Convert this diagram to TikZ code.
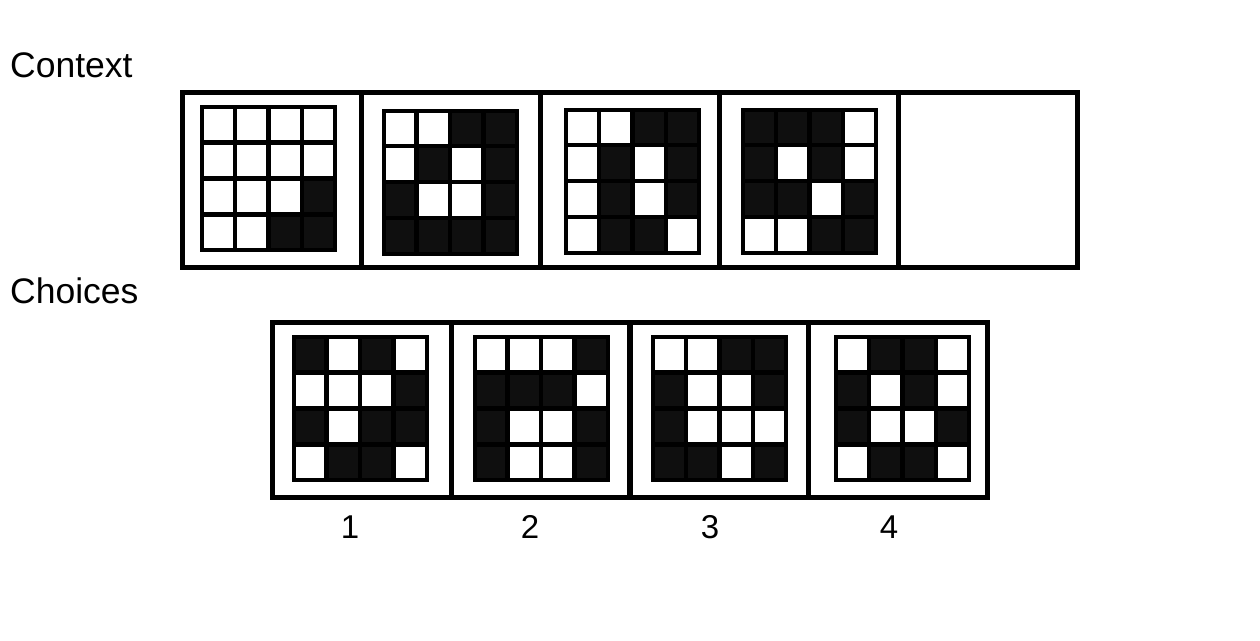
\documentclass[tikz,border=0pt]{standalone}
\usepackage{fontspec}
\setmainfont{Liberation Sans}

\tikzstyle{panel}=[rectangle, draw, line width=5pt,
                   minimum width=179pt, minimum height=175pt, inner sep=0pt]
\tikzstyle{choicepanel}=[panel, minimum width=178.75pt]
\tikzstyle{caption}=[inner sep=0pt, font=\fontsize{35.5}{42}\selectfont]
\tikzstyle{number}=[inner sep=0pt, font=\fontsize{33}{40}\selectfont]
\tikzstyle{litcell}=[fill=white]
\tikzstyle{darkcell}=[fill=black!94]

% grid of 4x4 squares: centre x, centre y, 16 values (1 = dark)
\newcommand{\patterngrid}[3]{%
  \fill[black] (#1-68.5, #2-73.5) rectangle (#1+68.5, #2+73.5);
  \foreach \v [count=\k from 0] in {#3} {
    \pgfmathtruncatemacro{\gridrow}{div(\k,4)}
    \pgfmathtruncatemacro{\gridcol}{mod(\k,4)}
    \ifnum\v=0
      \path[litcell] (#1-64.5+\gridcol*33.375, #2-69.5+\gridrow*35.875) rectangle ++(28.875, 31.375);
    \else
      \path[darkcell] (#1-64.5+\gridcol*33.375, #2-69.5+\gridrow*35.875) rectangle ++(28.875, 31.375);
    \fi
  }%
}

\begin{document}
\begin{tikzpicture}[x=1pt, y=-1pt]
\useasboundingbox (0, 0) rectangle (1260, 640);

%%%%%%%%%%%%%%%%%%
\node (Context) at (10, 77.5) [caption, anchor=base west] {Context};

\node (ctx_one) at (272, 180) [panel] {};

\node (ctx_two) at (451, 180) [panel] {};

\node (ctx_three) at (630, 180) [panel] {};

\node (ctx_four) at (809, 180) [panel] {};

\node (ctx_blank) at (988, 180) [panel] {};

%%%%%%%%%%%%%%%%%%
\node (Choices) at (10, 303) [caption, anchor=base west] {Choices};

\node (choice_one) at (361.9, 410) [choicepanel] {};

\node (choice_two) at (540.6, 410) [choicepanel] {};

\node (choice_three) at (719.4, 410) [choicepanel] {};

\node (choice_four) at (898.1, 410) [choicepanel] {};

%%%%%%%%%%%%%%%%%%
\node (num_one) at (350, 538) [number, anchor=base] {1};

\node (num_two) at (530, 538) [number, anchor=base] {2};

\node (num_three) at (710, 538) [number, anchor=base] {3};

\node (num_four) at (889, 538) [number, anchor=base] {4};

%%%%%%%%%%%%%%%%%%%
%%%%%%%%%%%%%%%%%%%
\patterngrid{268.5}{178.5}{0,0,0,0, 0,0,0,0, 0,0,0,1, 0,0,1,1}

\patterngrid{450}{182}{0,0,1,1, 0,1,0,1, 1,0,0,1, 1,1,1,1}

\patterngrid{632.5}{181}{0,0,1,1, 0,1,0,1, 0,1,0,1, 0,1,1,0}

\patterngrid{809.5}{181}{1,1,1,0, 1,0,1,0, 1,1,0,1, 0,0,1,1}

%%%%%%%%%%%%%%%%%%%
\patterngrid{360}{408.5}{1,0,1,0, 0,0,0,1, 1,0,1,1, 0,1,1,0}

\patterngrid{541}{408.5}{0,0,0,1, 1,1,1,0, 1,0,0,1, 1,0,0,1}

\patterngrid{719.5}{408.5}{0,0,1,1, 1,0,0,1, 1,0,0,0, 1,1,0,1}

\patterngrid{902.5}{408.5}{0,1,1,0, 1,0,1,0, 1,0,0,1, 0,1,1,0}

\end{tikzpicture}
\end{document}
